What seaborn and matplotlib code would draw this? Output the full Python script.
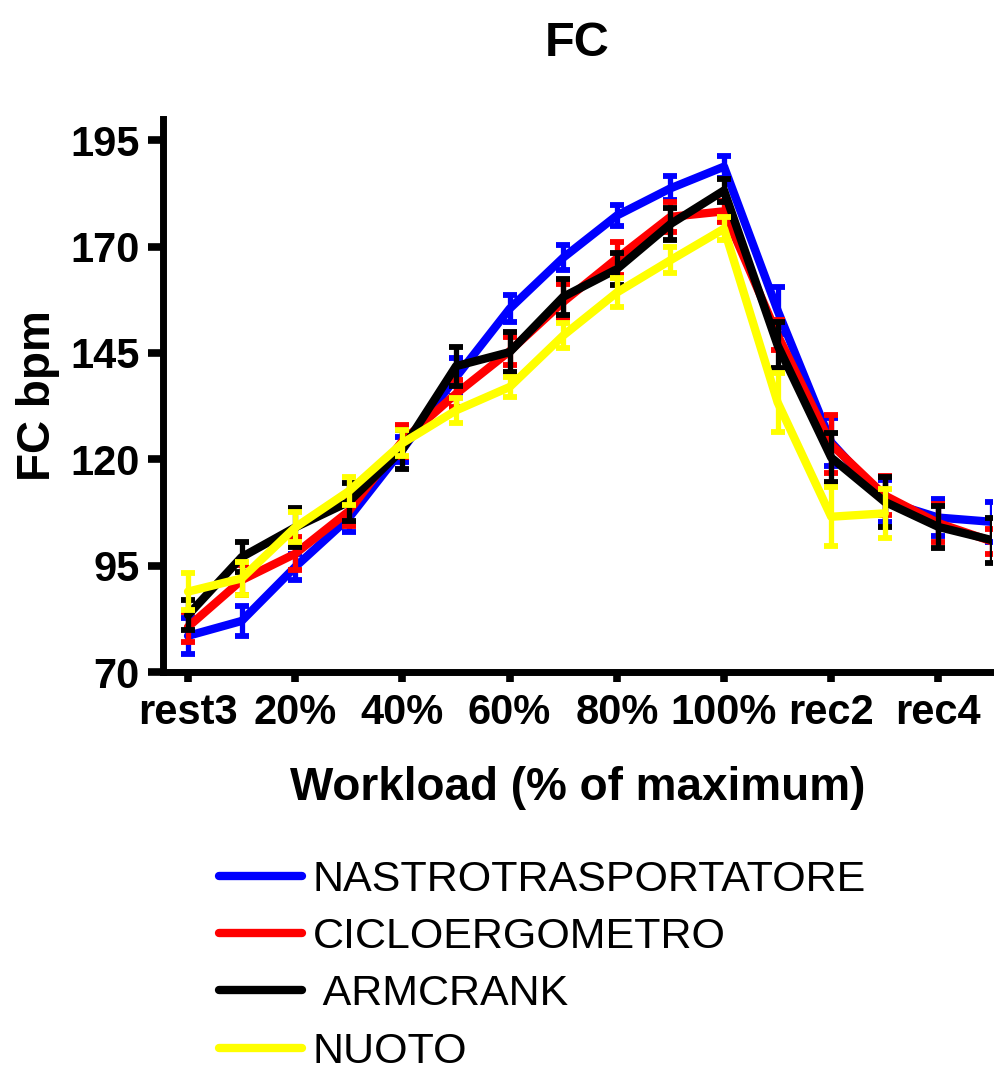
import numpy as np
import pandas as pd
import matplotlib
matplotlib.use("Agg")
import matplotlib.pyplot as plt
from matplotlib.lines import Line2D
import seaborn as sns

categories = ['rest3', '10%', '20%', '30%', '40%', '50%', '60%', '70%', '80%', '90%',
              '100%', 'rec1', 'rec2', 'rec3', 'rec4', 'rec5']

nastro = [78.5, 82, 94.7, 106.2, 122.3, 139.3, 155.4, 167.4, 177.3, 183.7, 188.8,
          155, 124, 110.2, 106.3, 105.3]
nastro_err = [4.3, 3.6, 3, 3.3, 3, 4.5, 3.2, 2.9, 2.5, 2.8, 2.6, 5.5, 5.6, 4.9, 4.3, 4.7]

ciclo = [80.6, 91.6, 97.8, 107.8, 124.3, 135.4, 145.4, 157, 167.2, 177, 178.3,
         149.2, 123.5, 111.5, 105, 100.7]
ciclo_err = [3.5, 3.5, 3.9, 3.5, 3.8, 3.2, 3.3, 4.3, 3.9, 3.5, 2.5, 3.5, 6.8, 4.5, 4.5, 3]

armcrank = [83.4, 97, 104, 110, 122.3, 141.9, 145.2, 158.2, 164.7, 175.3, 183.2,
            146.8, 120.4, 110, 104.1, 101]
armcrank_err = [3.5, 3.5, 4.6, 4.5, 4.5, 4.6, 4.7, 4.3, 3.8, 3.8, 2.8, 5.4, 5.8, 5.9, 4.9, 5.3]

nuoto = [88.9, 92, 104, 112.5, 123.8, 131.5, 137, 149.1, 159.2, 166.8, 174.2,
         133.4, 106.5, 107.3, np.nan, np.nan]
nuoto_err = [4.3, 3.9, 3.5, 3.3, 3, 3, 2.3, 2.9, 3.4, 3, 2.7, 7, 6.9, 5.8, np.nan, np.nan]

series_names = ['NASTROTRASPORTATORE', 'CICLOERGOMETRO', ' ARMCRANK', 'NUOTO']
series_vals = [nastro, ciclo, armcrank, nuoto]
series_errs = [nastro_err, ciclo_err, armcrank_err, nuoto_err]
colors = ['#0000FF', '#FF0000', '#000000', '#FFFF00']

sns.set_style('ticks')
plt.rcParams['font.family'] = ['Liberation Sans', 'DejaVu Sans']
plt.rcParams['text.color'] = 'black'
plt.rcParams['axes.labelcolor'] = 'black'
plt.rcParams['xtick.color'] = 'black'
plt.rcParams['ytick.color'] = 'black'

W, H = 994, 1072
fig = plt.figure(figsize=(W / 100, H / 100), dpi=100)
ax = fig.add_axes([163 / W, 1 - 672 / H, (992 - 163) / W, (672 - 119) / H])

x = np.arange(len(categories))
for i, (name, vals, errs, c) in enumerate(zip(series_names, series_vals, series_errs, colors)):
    df = pd.DataFrame({'x': x, 'y': vals, 'e': errs}).dropna()
    z = 3 + i * 2
    ax.errorbar(df['x'], df['y'], yerr=df['e'], fmt='none', ecolor=c,
                elinewidth=3.8, capsize=5, capthick=4.2, zorder=z + 1)
    sns.lineplot(data=df, x='x', y='y', color=c, linewidth=6, ax=ax,
                 sort=False, legend=False, zorder=z)

ax.set_xlim(-0.467, 15.0)
ax.set_ylim(70, 200)
ax.set_yticks([70, 95, 120, 145, 170, 195])
ax.set_xticks(x[::2])
ax.set_xticklabels(categories[::2])

for lab in ax.get_xticklabels() + ax.get_yticklabels():
    lab.set_fontweight('bold')
    lab.set_fontsize(30)
    lab.set_color('black')

ax.tick_params(axis='x', length=7, width=5.5, pad=8, color='black')
ax.tick_params(axis='y', length=11, width=5.5, pad=6, color='black')

sns.despine(ax=ax)
for s in ['left', 'bottom']:
    ax.spines[s].set_linewidth(5)
    ax.spines[s].set_color('black')

ax.set_title('FC', fontsize=35, fontweight='bold', pad=45, color='black')
ax.set_xlabel('Workload (% of maximum)', fontsize=33, fontweight='bold', labelpad=24, color='black')
ax.set_ylabel('FC bpm', fontsize=33, fontweight='bold', labelpad=7, color='black')

handles = [Line2D([0], [0], color=c, linewidth=6) for c in colors]
leg = fig.legend(handles, series_names, loc='upper left',
                 bbox_to_anchor=(219 / W, 1 - 860 / H), frameon=False, fontsize=31,
                 handlelength=1.93, handletextpad=0.25, borderpad=0, borderaxespad=0,
                 labelspacing=0.4)
for t in leg.get_texts():
    t.set_color('black')

fig.savefig('out.png', dpi=100)
